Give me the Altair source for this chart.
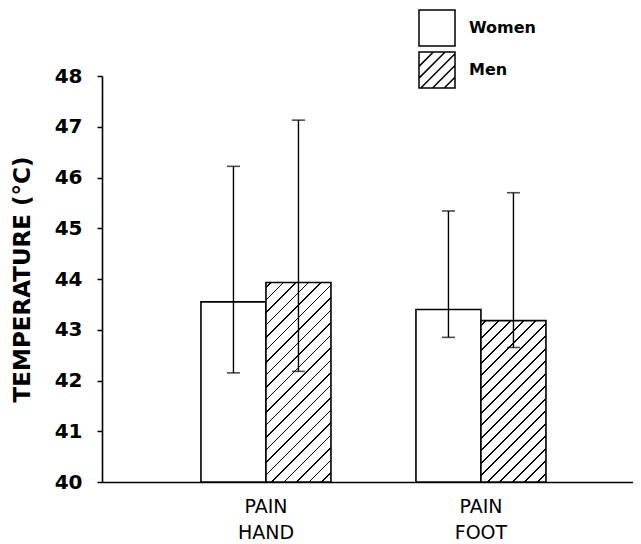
import altair as alt
import pandas as pd

# ---- data ----
regions = ["PAIN HAND", "PAIN FOOT"]
sexes = ["Women", "Men"]
women_mean = [43.55, 43.40]
women_lo = [42.15, 42.85]
women_hi = [46.22, 45.34]
men_mean = [43.93, 43.18]
men_lo = [42.18, 42.65]
men_hi = [47.13, 45.70]
y_ticks = [40, 41, 42, 43, 44, 45, 46, 47, 48]

rows = []
for i, r in enumerate(regions):
    rows.append(dict(region=r, sex="Women", mean=women_mean[i], lo=women_lo[i], hi=women_hi[i]))
    rows.append(dict(region=r, sex="Men", mean=men_mean[i], lo=men_lo[i], hi=men_hi[i]))
df = pd.DataFrame(rows)

W, H = 531, 406
Y0, Y1 = 40, 48
FONT = "DejaVu Sans"

# hatch fill for the men bars (style derived from bar geometry)
band_w = 65.0
period = 12.5
thick = 1.9


def hatch(value):
    h = (value - Y0) / (Y1 - Y0) * H
    r = h / band_w
    L = band_w * (1 + r * r)
    stops = [{"offset": 0, "color": "white"}]
    c = 5.0
    while c < band_w + h + period:
        a = max(0.0, (c - thick / 2) / L)
        b = min(1.0, (c + thick / 2) / L)
        if a >= 1.0:
            break
        stops += [
            {"offset": a, "color": "white"},
            {"offset": a, "color": "black"},
            {"offset": b, "color": "black"},
            {"offset": b, "color": "white"},
        ]
        c += period
    stops.append({"offset": 1, "color": "white"})
    return {"gradient": "linear", "x1": 0, "y1": 0, "x2": 1, "y2": r, "stops": stops}


hatch_hand = hatch(men_mean[0])
hatch_foot = hatch(men_mean[1])

square = "M-1,-1H1V1H-1Z"
square_hatched = (
    "M-1,-1H1V1H-1Z"
    "M-1,-0.2L-0.2,-1"
    "M-1,0.45L0.45,-1"
    "M-0.9,1L1,-0.9"
    "M-0.25,1L1,-0.25"
    "M0.4,1L1,0.4"
)

x_enc = alt.X(
    "region:N",
    sort=regions,
    scale=alt.Scale(paddingInner=0.3953, paddingOuter=0.4326, align=0.532),
    axis=alt.Axis(
        title=None,
        labelExpr="split(datum.label, ' ')",
        labelAngle=0,
        labelFont=FONT,
        labelFontSize=19,
        labelFontWeight="normal",
        labelColor="black",
        labelLineHeight=26,
        labelPadding=15,
        ticks=False,
        domainColor="black",
        domainWidth=1.6,
        grid=False,
    ),
)
xo_enc = alt.XOffset("sex:N", sort=sexes, scale=alt.Scale(paddingInner=0, paddingOuter=0))
y_scale = alt.Scale(domain=[Y0, Y1], zero=False, nice=False)

base = alt.Chart(df)

legend_pts = base.mark_point(
    filled=False, color="black", strokeWidth=1.5, size=10, opacity=1
).encode(
    x=x_enc,
    xOffset=xo_enc,
    y=alt.Y("lo:Q", scale=y_scale),
    shape=alt.Shape(
        "sex:N",
        sort=sexes,
        scale=alt.Scale(domain=sexes, range=[square, square_hatched]),
        legend=alt.Legend(
            title=None,
            orient="none",
            legendX=316,
            legendY=-67,
            padding=0,
            symbolSize=1296,
            symbolStrokeWidth=1.5,
            symbolStrokeColor="black",
            symbolFillColor="white",
            symbolOpacity=1,
            rowPadding=0,
            labelFont=FONT,
            labelFontSize=16,
            labelFontWeight="bold",
            labelColor="black",
            labelOffset=13,
        ),
    ),
)

women_bars = base.transform_filter("datum.sex == 'Women'").mark_bar(
    fill="white", stroke="black", strokeWidth=1.6
).encode(
    x=x_enc,
    xOffset=xo_enc,
    y=alt.Y(
        "mean:Q",
        scale=y_scale,
        axis=alt.Axis(
            values=y_ticks,
            title="TEMPERATURE (°C)",
            titleFont=FONT,
            titleFontSize=23,
            titleFontWeight="bold",
            titleColor="black",
            titlePadding=20,
            labelFont=FONT,
            labelFontSize=20,
            labelFontWeight="bold",
            labelColor="black",
            labelPadding=15,
            tickSize=5,
            tickColor="black",
            tickWidth=1.5,
            domainColor="black",
            domainWidth=1.6,
            grid=False,
        ),
    ),
    y2=alt.datum(Y0),
)

men_bars = base.transform_filter("datum.sex == 'Men'").mark_bar(
    stroke="black", strokeWidth=1.6
).encode(
    x=x_enc,
    xOffset=xo_enc,
    y=alt.Y("mean:Q", scale=y_scale),
    y2=alt.datum(Y0),
    fill=alt.condition("datum.region == 'PAIN HAND'", alt.value(hatch_hand), alt.value(hatch_foot)),
)

err = base.mark_rule(color="black", strokeWidth=1.4).encode(
    x=x_enc, xOffset=xo_enc, y=alt.Y("lo:Q", scale=y_scale), y2="hi:Q"
)
cap_lo = base.mark_tick(color="black", thickness=1.6, size=13, orient="horizontal").encode(
    x=x_enc, xOffset=xo_enc, y=alt.Y("lo:Q", scale=y_scale)
)
cap_hi = base.mark_tick(color="black", thickness=1.6, size=13, orient="horizontal").encode(
    x=x_enc, xOffset=xo_enc, y=alt.Y("hi:Q", scale=y_scale)
)

chart = alt.layer(legend_pts, women_bars, men_bars, err, cap_lo, cap_hi).properties(
    width=W,
    height=H,
    background="white",
    autosize=alt.AutoSizeParams(type="none"),
    padding={"left": 94, "top": 68, "right": 0, "bottom": 62},
).configure_view(strokeWidth=0, stroke="transparent").configure_axis(grid=False)

chart.save("out.html", embed_options={"renderer": "svg", "actions": False})
